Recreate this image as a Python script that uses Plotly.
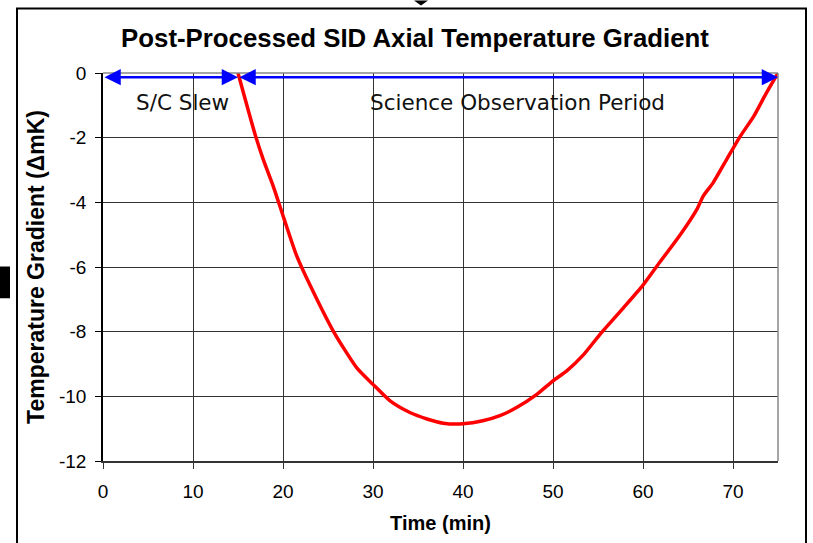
import plotly.graph_objects as go

# ---- data ----
time_min = [15.0, 16.9, 17.8, 18.9, 20.0, 21.5, 23.0, 25.6, 28.2, 30.0, 31.9, 34.1, 36.0, 37.8,
            40.0, 42.3, 44.1, 46.0, 48.2, 50.0, 51.5, 53.4, 55.2, 57.8, 60.0, 61.9, 64.1, 66.0,
            66.7, 67.8, 69.3, 70.8, 72.3, 73.7, 75.0]
gradient_mk = [0.0, -1.9, -2.67, -3.49, -4.41, -5.64, -6.56, -7.99, -9.12, -9.63, -10.14, -10.50,
               -10.70, -10.83, -10.85, -10.75, -10.60, -10.34, -9.94, -9.52, -9.22, -8.71, -8.09,
               -7.27, -6.56, -5.84, -5.02, -4.21, -3.80, -3.39, -2.67, -1.96, -1.34, -0.62, 0.0]

phase_labels = ["S/C Slew", "Science Observation Period"]
phase_start = [0, 15]
phase_end = [15, 75]
phase_label_x = [8.8, 46.0]
arrow_level = -0.13
label_level = -0.9

x_ticks = [0, 10, 20, 30, 40, 50, 60, 70]
y_ticks = [0, -2, -4, -6, -8, -10, -12]

W, H = 813, 543
L, R, T, B = 103, 35, 73, 79
pw, ph = W - L - R, H - T - B


def px(xp):
    return (xp - L) / pw


def py(yp):
    return (H - B - yp) / ph


fig = go.Figure()
fig.add_trace(go.Scatter(x=time_min, y=gradient_mk, mode="lines", line_shape="spline",
                         line=dict(color="#ff0000", width=3.5, smoothing=0.6), showlegend=False,
                         hoverinfo="skip"))

annotations = []
for s, e in zip(phase_start, phase_end):
    annotations.append(dict(x=e, y=arrow_level, ax=s, ay=arrow_level, xref="x", yref="y",
                            axref="x", ayref="y", text="", showarrow=True,
                            arrowhead=2, arrowside="end+start", arrowsize=1.3,
                            arrowwidth=2.5, arrowcolor="#0000ff"))
for lab, xl in zip(phase_labels, phase_label_x):
    annotations.append(dict(x=xl, y=label_level, xref="x", yref="y", text=lab, showarrow=False,
                            font=dict(family="DejaVu Sans", size=21.5, color="#111111")))

shapes = [
    # plot frame (top/right in gray)
    dict(type="line", xref="paper", yref="paper", x0=0, x1=1, y0=1, y1=1,
         line=dict(color="#888888", width=1.5)),
    dict(type="line", xref="paper", yref="paper", x0=1, x1=1, y0=0, y1=1,
         line=dict(color="#888888", width=1.5)),
    # outer chart border
    dict(type="rect", xref="paper", yref="paper", x0=px(17), x1=px(806), y0=py(580), y1=py(8),
         line=dict(color="black", width=2), layer="below"),
    # scan artifacts
    dict(type="rect", xref="paper", yref="paper", x0=px(0), x1=px(10), y0=py(300), y1=py(268),
         fillcolor="black", line=dict(width=0)),
    dict(type="path", xref="paper", yref="paper",
         path=f"M {px(414)},{py(0)} L {px(428)},{py(0)} L {px(421)},{py(5)} Z",
         fillcolor="black", line=dict(width=0)),
]

fig.update_layout(
    width=W, height=H,
    margin=dict(l=L, r=R, t=T, b=B),
    paper_bgcolor="white", plot_bgcolor="white",
    title=dict(text="<b>Post-Processed SID Axial Temperature Gradient</b>",
               x=415 / W, xanchor="center", y=1 - 38 / H, yanchor="middle",
               font=dict(family="Liberation Sans", size=25.8, color="black")),
    xaxis=dict(range=[0, 75], tickvals=x_ticks, ticktext=[str(v) for v in x_ticks],
               showgrid=True, gridcolor="#333333", gridwidth=1,
               showline=True, linecolor="#333333", linewidth=1.5,
               ticks="outside", ticklen=6, tickcolor="#333333", ticklabelstandoff=6,
               tickfont=dict(family="Liberation Sans", size=19, color="black"),
               title=dict(text="<b>Time (min)</b>", standoff=15,
                          font=dict(family="Liberation Sans", size=20, color="black")),
               zeroline=False, fixedrange=True),
    yaxis=dict(range=[-12, 0], tickvals=y_ticks, ticktext=[str(v) for v in y_ticks],
               showgrid=True, gridcolor="#333333", gridwidth=1,
               showline=True, linecolor="black", linewidth=1.5,
               ticks="outside", ticklen=6, tickcolor="black", ticklabelstandoff=5,
               tickfont=dict(family="Liberation Sans", size=19, color="black"),
               title=dict(text="<b>Temperature Gradient (ΔmK)</b>", standoff=8,
                          font=dict(family="Liberation Sans", size=23, color="black")),
               zeroline=False, fixedrange=True),
    annotations=annotations,
    shapes=shapes,
)

fig.write_html("out.html")
